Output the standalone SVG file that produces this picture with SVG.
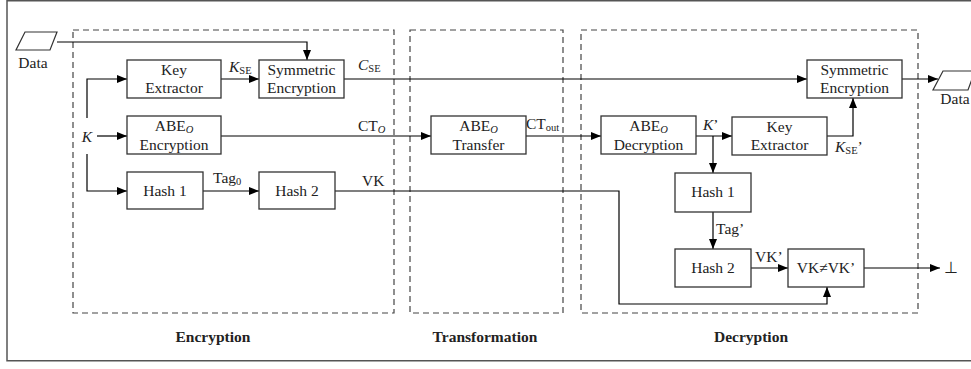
<svg xmlns="http://www.w3.org/2000/svg" width="971" height="369" viewBox="0 0 971 369">
<defs>
<marker id="ah" viewBox="0 0 10 8" refX="10" refY="4" markerWidth="10" markerHeight="8" markerUnits="userSpaceOnUse" orient="auto">
<path d="M0,0 L10,4 L0,8 Z" fill="#000"/>
</marker>
<style>
.box{fill:#fff;stroke:#333;stroke-width:1.3}
.dash{fill:none;stroke:#444;stroke-width:1.2;stroke-dasharray:6,4}
.con{fill:none;stroke:#000;stroke-width:1.2}
.arr{marker-end:url(#ah)}
text{font-family:"Liberation Serif","Times New Roman",serif;font-size:15.5px;fill:#222}
.c{text-anchor:middle}
.b{font-weight:bold;font-size:15.5px}
.sub{font-size:10.5px}
</style>
</defs>
<rect x="7" y="0.75" width="975" height="360" fill="none" stroke="#555" stroke-width="1.5"/>
<g id="regions">
<rect class="dash" x="73" y="30" width="321" height="283"/>
<rect class="dash" x="410" y="30" width="153" height="283"/>
<rect class="dash" x="581" y="30" width="337" height="283"/>
<text class="c b" x="213" y="342">Encryption</text>
<text class="c b" x="485" y="342">Transformation</text>
<text class="c b" x="751" y="342">Decryption</text>
</g>
<g id="connectors">
<path class="con arr" d="M57,42 H307 V60"/>
<path class="con arr" d="M87,118 V79 H127"/>
<path class="con arr" d="M97,136 H127"/>
<path class="con arr" d="M87,154 V191 H127"/>
<path class="con arr" d="M221,79 H259"/>
<path class="con arr" d="M203,191 H259"/>
<path class="con arr" d="M344,79 H807"/>
<path class="con arr" d="M221,136 H431"/>
<path class="con arr" d="M526,136 H601"/>
<path class="con arr" d="M696,136 H732"/>
<path class="con arr" d="M713,136 V173"/>
<path class="con arr" d="M827,136 H853 V98"/>
<path class="con arr" d="M713,212 V249"/>
<path class="con arr" d="M751,268 H788"/>
<path class="con arr" d="M335,191 H619 V304 H827 V287"/>
<path class="con arr" d="M864,268 H940"/>
<path class="con arr" d="M902,79 H938"/>
<text x="87" y="142" class="c" font-style="italic">K</text>
<text x="229" y="72"><tspan font-style="italic">K</tspan><tspan class="sub" dy="2">SE</tspan></text>
<text x="358" y="70"><tspan font-style="italic">C</tspan><tspan class="sub" dy="2">SE</tspan></text>
<text x="358" y="131">CT<tspan class="sub" font-style="italic" dy="2">O</tspan></text>
<text x="213" y="183">Tag<tspan class="sub" dy="2">0</tspan></text>
<text x="362" y="186">VK</text>
<text x="526" y="129">CT<tspan class="sub" dy="2">out</tspan></text>
<text x="703" y="130"><tspan font-style="italic">K</tspan>’</text>
<text x="835" y="152"><tspan font-style="italic">K</tspan><tspan class="sub" dy="2">SE</tspan><tspan dy="-2">’</tspan></text>
<text x="716" y="234">Tag’</text>
<text x="755" y="262">VK’</text>
<text x="944" y="273" font-size="16">⊥</text>
</g>
<g id="data-in">
<polygon points="25,32 57,32 50,50 16,50" fill="#fff" stroke="#333" stroke-width="1.2"/>
<text x="33" y="68" class="c">Data</text>
</g>
<g id="data-out">
<polygon points="943,71 975,71 968,90 933,90" fill="#fff" stroke="#333" stroke-width="1.2"/>
<text x="955" y="104" class="c">Data</text>
</g>
<g id="key-extractor-enc">
<rect class="box" x="127" y="60" width="94" height="38"/>
<text class="c" x="174" y="75">Key</text>
<text class="c" x="174" y="93">Extractor</text>
</g>
<g id="sym-enc-enc">
<rect class="box" x="259" y="60" width="85" height="38"/>
<text class="c" x="301.5" y="75">Symmetric</text>
<text class="c" x="301.5" y="93">Encryption</text>
</g>
<g id="abe-encryption">
<rect class="box" x="127" y="116" width="94" height="38"/>
<text class="c" x="174" y="131">ABE<tspan class="sub" font-style="italic" dy="2">O</tspan></text>
<text class="c" x="174" y="150">Encryption</text>
</g>
<g id="hash1-enc">
<rect class="box" x="127" y="172" width="76" height="37"/>
<text class="c" x="165" y="196">Hash 1</text>
</g>
<g id="hash2-enc">
<rect class="box" x="259" y="172" width="76" height="37"/>
<text class="c" x="297" y="196">Hash 2</text>
</g>
<g id="abe-transfer">
<rect class="box" x="431" y="116" width="95" height="38"/>
<text class="c" x="478.5" y="131">ABE<tspan class="sub" font-style="italic" dy="2">O</tspan></text>
<text class="c" x="478.5" y="150">Transfer</text>
</g>
<g id="abe-decryption">
<rect class="box" x="601" y="116" width="95" height="38"/>
<text class="c" x="648.5" y="131">ABE<tspan class="sub" font-style="italic" dy="2">O</tspan></text>
<text class="c" x="648.5" y="150">Decryption</text>
</g>
<g id="key-extractor-dec">
<rect class="box" x="732" y="117" width="95" height="38"/>
<text class="c" x="779.5" y="132">Key</text>
<text class="c" x="779.5" y="150">Extractor</text>
</g>
<g id="sym-enc-dec">
<rect class="box" x="807" y="60" width="95" height="38"/>
<text class="c" x="854.5" y="75">Symmetric</text>
<text class="c" x="854.5" y="93">Encryption</text>
</g>
<g id="hash1-dec">
<rect class="box" x="675" y="173" width="76" height="39"/>
<text class="c" x="713" y="197">Hash 1</text>
</g>
<g id="hash2-dec">
<rect class="box" x="675" y="249" width="76" height="38"/>
<text class="c" x="713" y="273">Hash 2</text>
</g>
<g id="vk-compare">
<rect class="box" x="788" y="249" width="76" height="38"/>
<text class="c" x="826" y="273">VK≠VK’</text>
</g>
</svg>
